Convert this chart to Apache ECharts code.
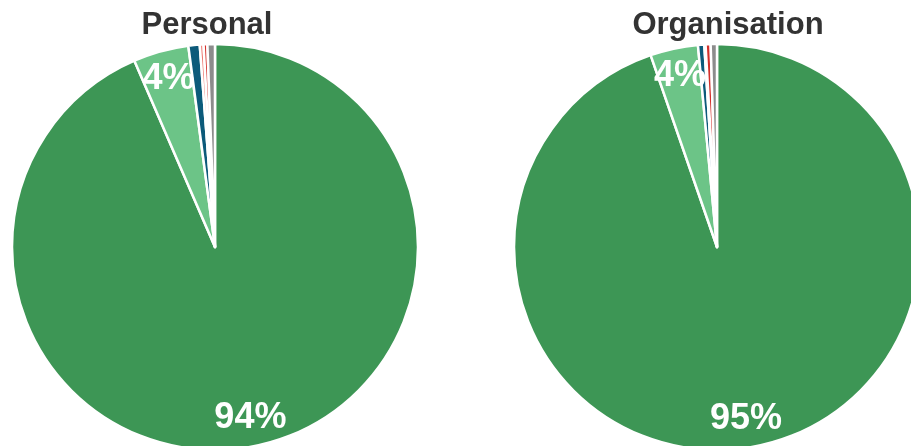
<!DOCTYPE html>
<html>
<head>
<meta charset="utf-8">
<script src="https://cdn.jsdelivr.net/npm/echarts@6/dist/echarts.min.js"></script>
<style>
  html, body { margin: 0; padding: 0; background: #fff; }
  #chart { width: 911px; height: 446px; }
</style>
</head>
<body>
<div id="chart"></div>
<script>
// Response categories, in clockwise order from 12 o'clock
const categories = ['Cat A', 'Cat B', 'Cat C', 'Cat D', 'Cat E', 'Cat F'];
const sliceColors = ['#3d9655', '#6cc487', '#0c5a7a', '#ec7a72', '#d3302b', '#8c8c8c'];

// Percentage shares per panel
const personalValues = [93.5, 4.4, 0.9, 0.3, 0.3, 0.6];
const organisationValues = [94.7, 3.8, 0.5, 0.1, 0.4, 0.5];

const panelTitles = ['Personal', 'Organisation'];

// Only the two largest shares get a label
const labelledSlices = [0, 1];

const FONT = '"Liberation Sans", Arial, sans-serif';

function pieData(values) {
  return values.map((v, i) => ({
    name: categories[i],
    value: v,
    itemStyle: { color: sliceColors[i] }
  }));
}

function labelData(values) {
  return values.map((v, i) => ({
    name: categories[i],
    value: v,
    label: { show: labelledSlices.includes(i) }
  }));
}

function panel(values, center) {
  return [
    {
      type: 'pie',
      center: center,
      radius: [0, 203],
      startAngle: 90,
      clockwise: true,
      animation: false,
      silent: true,
      label: { show: false },
      labelLine: { show: false },
      itemStyle: { borderColor: '#ffffff', borderWidth: 2.5 },
      data: pieData(values)
    },
    {
      // transparent ring that carries the percentage labels near the rim
      type: 'pie',
      center: center,
      radius: [140, 203],
      startAngle: 90,
      clockwise: true,
      animation: false,
      silent: true,
      itemStyle: { color: 'rgba(0,0,0,0)' },
      labelLine: { show: false },
      label: {
        position: 'inside',
        formatter: p => Math.round(p.value) + '%',
        color: '#ffffff',
        fontFamily: FONT,
        fontWeight: 'bold',
        fontSize: 36
      },
      data: labelData(values)
    }
  ];
}

const chart = echarts.init(document.getElementById('chart'), null, { renderer: 'canvas' });
chart.setOption({
  backgroundColor: '#ffffff',
  title: [
    {
      text: panelTitles[0], left: 202, top: 5, textAlign: 'center',
      textStyle: { fontFamily: FONT, fontWeight: 'bold', fontSize: 31, color: '#333333' }
    },
    {
      text: panelTitles[1], left: 723, top: 5, textAlign: 'center',
      textStyle: { fontFamily: FONT, fontWeight: 'bold', fontSize: 31, color: '#333333' }
    }
  ],
  series: [
    ...panel(personalValues, [215, 247]),
    ...panel(organisationValues, [717, 247])
  ]
});
</script>
</body>
</html>
